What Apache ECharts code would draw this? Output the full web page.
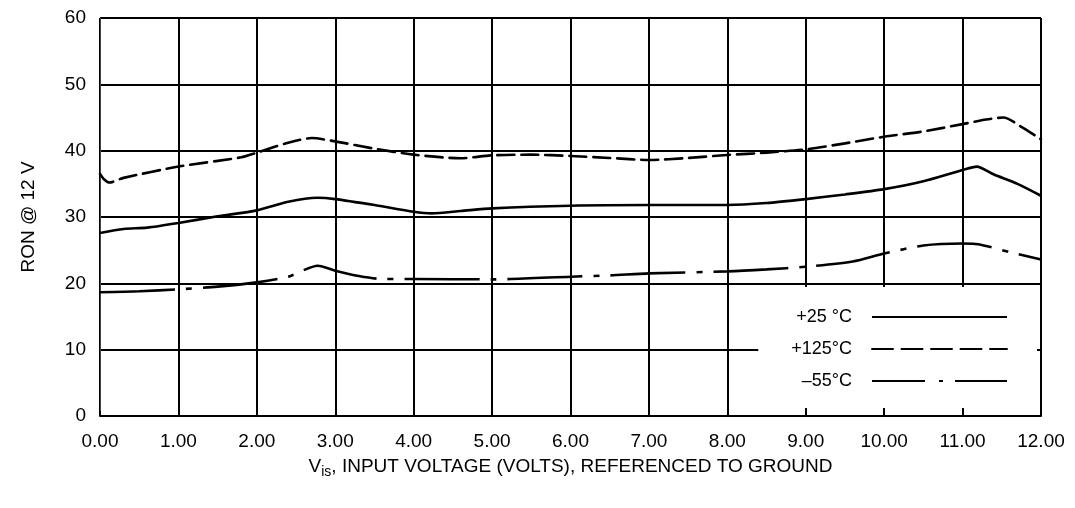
<!DOCTYPE html>
<html>
<head>
<meta charset="utf-8">
<script src="https://cdn.jsdelivr.net/npm/echarts@6/dist/echarts.min.js"></script>
<style>
html,body{margin:0;padding:0;background:#fff;}
#c{width:1075px;height:508px;}
</style>
</head>
<body>
<div id="c"></div>
<script>
// ---- data ----
var xTicks = [0,1,2,3,4,5,6,7,8,9,10,11,12];
var yTicks = [0,10,20,30,40,50,60];

var x25  = [0, 0.3, 0.6, 1.0, 1.5, 2.0, 2.4, 2.77, 3.0, 3.5, 4.0, 4.23, 4.6, 5.0, 6.0, 7.0, 8.0, 8.5, 9.0, 9.5, 10.0, 10.5, 11.0, 11.18, 11.4, 11.7, 12.0];
var y25  = [27.6, 28.2, 28.4, 29.1, 30.1, 31.0, 32.3, 32.9, 32.7, 31.8, 30.8, 30.55, 30.9, 31.3, 31.7, 31.8, 31.8, 32.1, 32.7, 33.4, 34.2, 35.4, 37.1, 37.6, 36.4, 35.0, 33.2];

var x125 = [0, 0.05, 0.12, 0.3, 1.0, 1.8, 2.0, 2.4, 2.7, 3.0, 3.5, 4.0, 4.6, 5.0, 5.5, 6.0, 6.5, 7.0, 7.5, 8.0, 8.5, 9.0, 9.5, 10.0, 10.5, 11.0, 11.3, 11.52, 11.75, 12.0];
var y125 = [36.5, 35.7, 35.2, 35.9, 37.6, 39.0, 39.7, 41.2, 41.9, 41.4, 40.3, 39.4, 38.85, 39.3, 39.4, 39.2, 38.9, 38.6, 38.9, 39.35, 39.7, 40.2, 41.1, 42.1, 42.9, 44.0, 44.7, 45.0, 43.6, 41.7];

var x55  = [0, 0.5, 1.0, 1.5, 2.0, 2.4, 2.78, 3.0, 3.3, 3.6, 4.0, 5.0, 6.0, 6.5, 7.0, 8.0, 8.5, 9.0, 9.6, 10.0, 10.5, 11.0, 11.2, 11.6, 12.0];
var y55  = [18.65, 18.8, 19.1, 19.5, 20.15, 21.0, 22.65, 21.9, 21.1, 20.65, 20.65, 20.6, 21.0, 21.2, 21.5, 21.8, 22.1, 22.5, 23.3, 24.5, 25.7, 26.0, 25.9, 24.7, 23.6];

var names = ['+25 °C', '+125°C', '–55°C'];

function pairs(xs, ys){ return xs.map(function(x,i){ return [x, ys[i]]; }); }

var FONT = 'Liberation Sans, Arial, sans-serif';
var FS = 19;
var chart = echarts.init(document.getElementById('c'), null, {renderer:'canvas'});
chart.setOption({
  backgroundColor: '#fff',
  animation: false,
  grid: {left: 100, right: 34, top: 18, bottom: 92},
  xAxis: {
    type: 'value', min: xTicks[0], max: xTicks[xTicks.length-1], interval: 1,
    axisLine: {show: true, lineStyle: {color: '#000', width: 2}},
    axisTick: {show: true, inside: true, length: 5, lineStyle: {color: '#000', width: 2}},
    axisLabel: {color: '#000', fontFamily: FONT, fontSize: FS, margin: 16,
      formatter: function(v){ return v.toFixed(2); }},
    splitLine: {show: true, lineStyle: {color: '#000', width: 2}},
    name: '{v|V}{s|is}{v|, INPUT VOLTAGE (VOLTS), REFERENCED TO GROUND}',
    nameLocation: 'middle', nameGap: 39,
    nameTextStyle: {rich: {
      v: {fontFamily: FONT, fontSize: FS, color: '#000'},
      s: {fontFamily: FONT, fontSize: 14, color: '#000', verticalAlign: 'bottom', padding: [10,0,0,0]}
    }}
  },
  yAxis: {
    type: 'value', min: yTicks[0], max: yTicks[yTicks.length-1], interval: 10,
    axisLine: {show: true, lineStyle: {color: '#444', width: 1}},
    axisTick: {show: false},
    axisLabel: {color: '#000', fontFamily: FONT, fontSize: FS, margin: 14},
    splitLine: {show: true, lineStyle: {color: '#000', width: 2}},
    name: 'RON @ 12 V', nameLocation: 'middle', nameGap: 62, nameRotate: 90,
    nameTextStyle: {fontFamily: FONT, fontSize: FS, color: '#000'}
  },
  legend: {
    show: true, orient: 'vertical', align: 'right', selectedMode: false,
    right: 38, top: 287, backgroundColor: '#fff',
    padding: [21, 29, 18, 33],
    itemWidth: 135, itemHeight: 18, itemGap: 14,
    itemStyle: {opacity: 0, borderWidth: 0, color: 'transparent'},
    textStyle: {fontFamily: FONT, fontSize: 18, lineHeight: 18, color: '#000', padding: [0, 15, 0, 0]},
    data: [
      {name: names[0]},
      {name: names[1], lineStyle: {type: [21, 8.5]}},
      {name: names[2], lineStyle: {type: [53, 14, 4, 12]}}
    ]
  },
  series: [
    {name: names[0], type: 'line', data: pairs(x25, y25), showSymbol: false, symbol: 'none',
     smooth: 0.25, lineStyle: {color: '#000', width: 2.6, type: 'solid'}, itemStyle: {color: '#000'}, z: 5},
    {name: names[1], type: 'line', data: pairs(x125, y125), showSymbol: false, symbol: 'none',
     smooth: 0.25, lineStyle: {color: '#000', width: 2.6, type: [17, 7], cap: 'round'}, itemStyle: {color: '#000'}, z: 5},
    {name: names[2], type: 'line', data: pairs(x55, y55), showSymbol: false, symbol: 'none',
     smooth: 0.25, lineStyle: {color: '#000', width: 2.6, type: [75, 11, 6, 11]}, itemStyle: {color: '#000'}, z: 5}
  ]
});
</script>
</body>
</html>
